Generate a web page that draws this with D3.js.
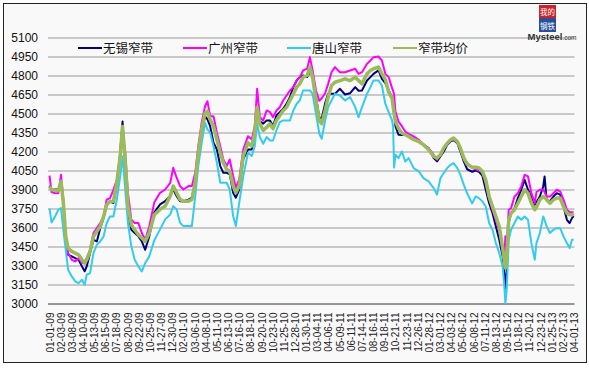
<!DOCTYPE html>
<html>
<head>
<meta charset="utf-8">
<script src="https://cdn.jsdelivr.net/npm/d3@7"></script>
<style>
  body { margin: 0; background: #fff; }
  svg { display: block; font-family: 'Liberation Sans', Arial, sans-serif; }
</style>
</head>
<body>
<svg id="chart" width="589" height="368"></svg>
<script>
const dates = [
  '2009-01-01','2009-01-07','2009-01-16','2009-01-27','2009-02-04','2009-02-11','2009-02-18','2009-02-25','2009-03-08','2009-03-18','2009-03-28','2009-04-07','2009-04-15','2009-04-21','2009-05-01','2009-05-11','2009-05-21','2009-05-31','2009-06-10','2009-06-19','2009-06-29','2009-07-09','2009-07-19','2009-07-29','2009-08-05','2009-08-13','2009-08-21','2009-08-31','2009-09-10','2009-09-21','2009-10-01','2009-10-11','2009-10-23','2009-11-07','2009-11-24','2009-12-09','2009-12-24',
  '2010-01-02','2010-01-12','2010-01-22','2010-02-01','2010-02-16','2010-02-26','2010-03-08','2010-03-17','2010-03-27','2010-04-06','2010-04-13','2010-04-21','2010-05-01','2010-05-11','2010-05-21','2010-05-30','2010-06-09','2010-06-18','2010-06-28','2010-07-06','2010-07-16','2010-07-28','2010-08-11','2010-08-22','2010-08-31','2010-09-07','2010-09-15','2010-09-25','2010-10-05','2010-10-15','2010-10-24','2010-11-03','2010-11-13','2010-11-23','2010-12-03','2010-12-13','2010-12-23',
  '2011-01-02','2011-01-11','2011-01-21','2011-02-02','2011-02-10','2011-02-18','2011-02-28','2011-03-10','2011-03-17','2011-03-27','2011-04-05','2011-04-15','2011-04-25','2011-05-10','2011-05-25','2011-06-09','2011-06-24','2011-07-04','2011-07-14','2011-07-29','2011-08-08','2011-08-17','2011-09-01','2011-09-11','2011-09-21','2011-10-01','2011-10-11','2011-10-14','2011-10-17','2011-10-21','2011-10-30','2011-11-09','2011-11-19','2011-11-29','2011-12-14','2011-12-29',
  '2012-01-12','2012-01-27','2012-02-11','2012-02-21','2012-03-02','2012-03-12','2012-03-22','2012-04-01','2012-04-10','2012-04-21','2012-04-30','2012-05-10','2012-05-20','2012-06-04','2012-06-14','2012-06-24','2012-07-04','2012-07-14','2012-07-24','2012-08-03','2012-08-13','2012-08-23','2012-09-02','2012-09-07','2012-09-10','2012-09-14','2012-09-20','2012-09-27','2012-10-07','2012-10-17','2012-10-27','2012-11-06','2012-11-16','2012-11-26','2012-12-06','2012-12-11','2012-12-21','2012-12-31',
  '2013-01-04','2013-01-10','2013-01-20','2013-01-30','2013-02-09','2013-02-19','2013-03-01','2013-03-11','2013-03-19','2013-03-26','2013-03-31'
];

// 无锡窄带
const wuxi = [
  3930,3900,3900,3900,3950,3790,3500,3385,3372,3359,3345,3293,3254,3293,3398,3503,3490,3595,3675,3780,3806,3793,3937,4190,4437,4100,3714,3582,3556,3530,3490,3424,3530,3720,3782,3808,3850,
  3900,3848,3808,3808,3820,3835,3966,4190,4348,4479,4453,4400,4269,4216,4085,4032,4032,4020,3875,3835,3900,4140,4216,4216,4320,4530,4440,4420,4445,4445,4400,4484,4510,4537,4576,4629,4708,
  4760,4787,4800,4787,4830,4800,4629,4470,4460,4580,4655,4655,4655,4695,4650,4660,4708,4680,4682,4761,4787,4813,4840,4774,4740,4682,4629,4600,4550,4400,4332,4330,4335,4320,4300,4279,
  4253,4227,4148,4122,4161,4200,4253,4279,4292,4266,4200,4122,4060,4040,4050,4040,4010,3898,3792,3713,3608,3503,3372,3240,3120,3250,3640,3713,3750,3832,3898,3976,3898,3845,3780,3800,3845,3924,
  4003,3819,3806,3845,3871,3860,3766,3661,3635,3674,3690
];

// 广州窄带
const guangzhou = [
  4010,3880,3872,3870,4016,3819,3530,3398,3345,3332,3359,3319,3332,3359,3424,3556,3595,3635,3687,3819,3832,3898,3977,4161,4371,4180,3872,3661,3635,3635,3556,3503,3608,3800,3874,3900,3953,
  4071,3993,3927,3900,3927,3927,4032,4242,4427,4558,4597,4479,4479,4348,4242,4137,4085,4137,4006,3914,3980,4216,4321,4295,4400,4695,4471,4445,4524,4511,4471,4524,4550,4603,4642,4682,4708,
  4761,4787,4840,4853,4945,4840,4682,4600,4620,4660,4734,4826,4866,4826,4826,4840,4853,4813,4826,4892,4918,4945,4950,4918,4813,4787,4700,4680,4650,4516,4437,4400,4358,4340,4319,4293,
  4253,4227,4174,4135,4174,4227,4266,4292,4292,4279,4227,4148,4110,4070,4060,4050,4040,3950,3830,3740,3660,3570,3420,3350,3530,3450,3740,3753,3845,3871,3924,4016,4003,3871,3792,3880,3898,3898,
  3880,3845,3845,3871,3898,3885,3820,3740,3720,3720,3720
];

// 唐山窄带
const tangshan = [
  3750,3640,3680,3740,3753,3582,3424,3267,3214,3175,3161,3188,3148,3227,3240,3398,3464,3490,3530,3635,3687,3687,3819,4003,4161,3898,3635,3451,3345,3293,3253,3319,3372,3500,3585,3664,3703,
  3769,3743,3638,3611,3611,3611,3848,4085,4269,4427,4374,4348,4242,4111,3953,3953,3953,3900,3690,3611,3795,4006,4190,4164,4242,4419,4314,4261,4314,4287,4287,4366,4432,4445,4445,4445,4524,
  4577,4603,4682,4682,4682,4655,4498,4340,4300,4445,4550,4603,4655,4642,4603,4629,4550,4471,4550,4655,4708,4761,4761,4721,4577,4511,4445,4400,4073,4174,4148,4200,4121,4148,4069,4043,
  3990,3964,3911,3860,3990,4030,4069,4095,4108,4069,4016,3938,3870,3790,3845,3832,3806,3766,3635,3582,3477,3398,3293,3135,3003,3109,3503,3582,3635,3687,3661,3687,3661,3477,3345,3477,3556,3687,
  3660,3608,3556,3582,3595,3595,3530,3477,3437,3503,3503
];

// 窄带均价
const average = [
  3925,3900,3895,3890,3964,3793,3530,3437,3411,3398,3385,3345,3319,3345,3411,3530,3569,3608,3687,3780,3806,3806,3950,4161,4398,4134,3770,3620,3582,3543,3517,3490,3556,3700,3743,3769,3848,
  3927,3874,3822,3808,3808,3822,3953,4190,4374,4505,4518,4453,4400,4295,4190,4111,4058,4045,3927,3874,3927,4164,4269,4242,4348,4550,4419,4366,4392,4419,4380,4445,4484,4524,4550,4603,4655,
  4708,4734,4787,4800,4866,4787,4603,4440,4420,4524,4629,4721,4747,4760,4774,4760,4787,4760,4734,4813,4840,4853,4866,4813,4770,4668,4620,4560,4500,4437,4384,4345,4332,4319,4293,4279,
  4253,4214,4161,4148,4174,4227,4266,4292,4306,4279,4227,4150,4100,4075,4075,4070,4042,3976,3845,3766,3687,3608,3440,3330,3280,3350,3661,3713,3740,3792,3845,3898,3871,3792,3740,3760,3819,3845,
  3840,3819,3792,3819,3832,3832,3766,3713,3700,3700,3710
];

const seriesNames = ['无锡窄带', '广州窄带', '唐山窄带', '窄带均价'];
const yTicks = [3000, 3150, 3300, 3450, 3600, 3750, 3900, 4050, 4200, 4350, 4500, 4650, 4800, 4950, 5100];
const xTickLabels = [
  '01-01-09','02-03-09','03-08-09','04-10-09','05-13-09','06-15-09','07-18-09','08-20-09','09-22-09','10-25-09','11-27-09','12-30-09',
  '02-01-10','03-06-10','04-08-10','05-11-10','06-13-10','07-16-10','08-18-10','09-20-10','10-23-10','11-25-10','12-28-10',
  '01-30-11','03-04-11','04-06-11','05-09-11','06-11-11','07-14-11','08-16-11','09-18-11','10-21-11','11-23-11','12-26-11',
  '01-28-12','03-01-12','04-03-12','05-06-12','06-08-12','07-11-12','08-13-12','09-15-12','10-18-12','11-20-12','12-23-12',
  '01-25-13','02-27-13','04-01-13'
];

const colors = ['#000080', '#ff00ff', '#33ccee', '#9bbb59'];
const widths = [2, 2, 2, 3.5];

const parseDate = d3.timeParse('%Y-%m-%d');
const parseTick = d3.timeParse('%m-%d-%y');
const svg = d3.select('#chart');

const margin = { top: 37.5, right: 15, bottom: 64.5, left: 49.5 };
const width = 589, height = 368;

const x = d3.scaleTime()
  .domain([parseDate('2009-01-01'), parseTick('04-01-13')])
  .range([margin.left, width - margin.right]);
const y = d3.scaleLinear()
  .domain([3000, 5100])
  .range([height - margin.bottom, margin.top]);

// chart frame
svg.append('rect')
  .attr('x', 3.5).attr('y', 3.5)
  .attr('width', 583).attr('height', 359)
  .attr('fill', '#f9f9f9')
  .attr('stroke', '#222');

// horizontal grid + y labels
const yAxis = (g) =>
  g.attr('transform', `translate(${margin.left - 1.5},0)`)
    .call(d3.axisLeft(y).tickValues(yTicks).tickSize(0).tickPadding(10).tickFormat(d3.format('d')))
    .call((g) => g.select('.domain').remove())
    .call((g) => g.selectAll('.tick line').clone()
      .attr('x2', width - margin.right - margin.left + 2)
      .attr('stroke', (d) => (d === 3000 ? '#333' : '#999'))
      .attr('stroke-width', 1))
    .call((g) => g.selectAll('.tick text')
      .attr('fill', '#111')
      .style('font-size', '12px'));
svg.append('g').call(yAxis);

// x labels, rotated
const xAxis = (g) =>
  g.attr('transform', `translate(0,${height - margin.bottom})`)
    .call(d3.axisBottom(x).tickValues(xTickLabels.map(parseTick)).tickSize(0)
      .tickFormat(d3.timeFormat('%m-%d-%y')))
    .call((g) => g.select('.domain').remove())
    .call((g) => g.selectAll('.tick text')
      .attr('transform', 'rotate(-90)')
      .attr('text-anchor', 'end')
      .attr('x', -9)
      .attr('y', 0)
      .attr('dy', '0.35em')
      .attr('fill', '#222')
      .style('font-size', '10px'));
svg.append('g').call(xAxis);

// lines
const allSeries = [wuxi, guangzhou, tangshan, average];
const line = d3.line()
  .x((d, i) => x(parseDate(dates[i])))
  .y((d) => y(d));

svg.append('g')
  .selectAll('path')
  .data(allSeries)
  .join('path')
  .attr('d', (d) => line(d))
  .attr('fill', 'none')
  .attr('stroke', (d, i) => colors[i])
  .attr('stroke-width', (d, i) => widths[i])
  .attr('stroke-linejoin', 'round');

// legend
const legendX = [78, 183, 287, 393];
const legend = svg.append('g')
  .selectAll('g')
  .data(seriesNames)
  .join('g')
  .attr('transform', (d, i) => `translate(${legendX[i]},48)`);
legend.append('line')
  .attr('x1', 0).attr('x2', 24)
  .attr('stroke', (d, i) => colors[i])
  .attr('stroke-width', 2);
legend.append('text')
  .attr('x', 25)
  .attr('dy', '0.36em')
  .style('font-family', "'Noto Sans CJK SC', sans-serif")
  .style('font-size', '12.5px')
  .attr('fill', '#111')
  .text((d) => d);

// Mysteel logo
const logo = svg.append('g').attr('transform', 'translate(539,5)');
logo.append('rect').attr('width', 17).attr('height', 13).attr('fill', '#c8242c');
logo.append('rect').attr('y', 13).attr('width', 17).attr('height', 14).attr('fill', '#27509b');
logo.append('text').attr('x', 8.5).attr('y', 10).attr('text-anchor', 'middle')
  .style('font-family', "'Noto Sans CJK SC', sans-serif").style('font-size', '7.5px')
  .attr('fill', '#fff').text('我的');
logo.append('text').attr('x', 8.5).attr('y', 24).attr('text-anchor', 'middle')
  .style('font-family', "'Noto Sans CJK SC', sans-serif").style('font-size', '7.5px')
  .attr('fill', '#fff').text('钢铁');
const brand = logo.append('text').attr('x', 13).attr('y', 35).attr('text-anchor', 'middle')
  .attr('fill', '#333');
brand.append('tspan').style('font-size', '9.5px').style('font-weight', 'bold').text('Mysteel');
brand.append('tspan').style('font-size', '6.5px').text('.com');
</script>
</body>
</html>
